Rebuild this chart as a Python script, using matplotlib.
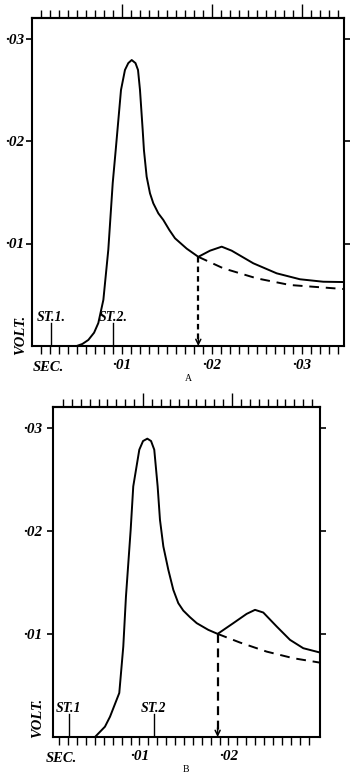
import matplotlib
matplotlib.use('Agg')
import matplotlib.pyplot as plt
from matplotlib.ticker import FixedLocator, NullFormatter, FixedFormatter

# ---------------- data: panel A ----------------
a_time = [0.00497, 0.0056, 0.00626, 0.0069, 0.00737, 0.00793, 0.00848, 0.00897, 0.0093,
          0.00989, 0.01033, 0.0107, 0.01108, 0.0115, 0.01178, 0.0120, 0.0123, 0.01244,
          0.01274, 0.01311, 0.01348, 0.01404, 0.01459, 0.01526, 0.01589, 0.01719, 0.01848,
          0.01978, 0.02108, 0.02219, 0.02459, 0.02719, 0.02978, 0.03237, 0.0346]
a_volt = [0.0, 0.0002, 0.00059, 0.0013, 0.00224, 0.0045, 0.0094, 0.0159, 0.0191,
          0.02498, 0.02693, 0.0276, 0.0279, 0.0276, 0.02693, 0.02498, 0.02107, 0.0191,
          0.01652, 0.0149, 0.01392, 0.01294, 0.0123, 0.01132, 0.01051, 0.0095, 0.0087,
          0.0093, 0.00969, 0.0093, 0.00807, 0.00709, 0.00651, 0.00627, 0.00624]
a_dash_time = [0.01848, 0.02126, 0.02497, 0.02867, 0.0346]
a_dash_volt = [0.0087, 0.00758, 0.0066, 0.00595, 0.00556]
a_arrow_time = 0.01848
a_st_time = [0.00211, 0.00901]
a_st_labels = ['ST.1.', 'ST.2.']
a_xlim = (0.0, 0.03467)

# ---------------- data: panel B ----------------
b_time = [0.005, 0.00612, 0.00669, 0.00773, 0.00818, 0.00848, 0.00901, 0.0093, 0.00998,
          0.0104, 0.01088, 0.0113, 0.01166, 0.01204, 0.0123, 0.01268, 0.01324, 0.0138,
          0.01436, 0.01492, 0.01567, 0.01643, 0.01773, 0.01878, 0.02054, 0.02204, 0.02298,
          0.02391, 0.02542, 0.02691, 0.0284, 0.03028]
b_volt = [0.0, 0.001, 0.00197, 0.00427, 0.00877, 0.01362, 0.0201, 0.0243, 0.02786,
          0.0287, 0.02893, 0.0287, 0.02786, 0.0243, 0.02107, 0.01848, 0.01621, 0.01427,
          0.01298, 0.01226, 0.01162, 0.01104, 0.01039, 0.0100, 0.01104, 0.01194, 0.01233,
          0.01207, 0.01071, 0.00942, 0.00861, 0.00819]
b_dash_time = [0.01878, 0.02129, 0.02429, 0.02728, 0.03028]
b_dash_volt = [0.0100, 0.00916, 0.00828, 0.00764, 0.00721]
b_arrow_time = 0.01878
b_st_time = [0.00208, 0.01163]
b_st_labels = ['ST.1', 'ST.2']
b_xlim = (0.00025, 0.03028)

y_ticks = [0.01, 0.02, 0.03]
y_tick_labels = ['·01', '·02', '·03']
x_major = [0.01, 0.02, 0.03]
x_major_labels = ['·01', '·02', '·03']

FONT = dict(family='Liberation Serif', style='italic', weight='bold')

fig = plt.figure(figsize=(3.55, 7.83), dpi=100)


def panel(rect, t, v, dt, dv, arrow_t, st_t, st_lab, xlim, letter, last_minor,
          ylab_pad, top_shift, vert_dash, sec_x, volt_y, volt_x):
    ax = fig.add_axes(rect)
    ax.set_xlim(*xlim)
    ax.set_ylim(0, 0.032)
    for s in ax.spines.values():
        s.set_linewidth(1.5)
    ax.plot(t, v, color='black', lw=1.4, solid_joinstyle='round')
    ax.plot(dt, dv, color='black', lw=1.4, ls=(0, (5, 3.5)))
    ax.plot([arrow_t, arrow_t], [dv[0], 0.0006], color='black', lw=1.6,
            ls=vert_dash)
    ax.annotate('', xy=(arrow_t, 0.0), xytext=(arrow_t, 0.0009),
                arrowprops=dict(arrowstyle='->', lw=1.1, color='black',
                                mutation_scale=9, shrinkA=0, shrinkB=0))
    for st, lab in zip(st_t, st_lab):
        ax.plot([st, st], [0, 0.0022], color='black', lw=1.0)
        ax.text(st, 0.0024, lab, ha='center', va='baseline', fontsize=10, **FONT)

    # y ticks
    ax.yaxis.set_major_locator(FixedLocator(y_ticks))
    ax.yaxis.set_major_formatter(FixedFormatter(y_tick_labels))
    ax.tick_params(axis='y', which='major', direction='out', length=4, width=1.2,
                   left=True, right=True, labelleft=True, labelright=False,
                   pad=ylab_pad)
    # bottom x ticks
    minor = [i / 1000 for i in range(1, last_minor + 1)]
    majors = [m for m in x_major if m < xlim[1] - 0.0005]
    labels = [x_major_labels[x_major.index(m)] for m in majors]
    ax.xaxis.set_major_locator(FixedLocator(majors))
    ax.xaxis.set_major_formatter(FixedFormatter(labels))
    ax.xaxis.set_minor_locator(FixedLocator(minor))
    ax.xaxis.set_minor_formatter(NullFormatter())
    ax.tick_params(axis='x', which='both', direction='out', length=5.5, width=1.0,
                   bottom=True, top=False, pad=4)
    for lab in ax.get_xticklabels() + ax.get_yticklabels():
        lab.set_fontfamily('Liberation Serif')
        lab.set_fontstyle('italic')
        lab.set_fontweight('bold')
        lab.set_fontsize(11)

    # top ticks
    sec = ax.secondary_xaxis('top', functions=(lambda x: x - top_shift,
                                               lambda x: x + top_shift))
    sec.xaxis.set_major_locator(FixedLocator(majors))
    sec.xaxis.set_minor_locator(FixedLocator(minor))
    sec.xaxis.set_major_formatter(NullFormatter())
    sec.xaxis.set_minor_formatter(NullFormatter())
    sec.tick_params(which='major', direction='out', length=10, width=1.0)
    sec.tick_params(which='minor', direction='out', length=5.5, width=1.0)
    sec.spines['top'].set_linewidth(1.5)

    ax.text(sec_x, -0.0021, 'SEC.', ha='center', va='center', fontsize=10.5,
            transform=ax.transData, clip_on=False, **FONT)
    ax.text(volt_x, volt_y, 'VOLT.', ha='center', va='center', rotation=90,
            fontsize=10.5, transform=ax.get_yaxis_transform(), clip_on=False, **FONT)
    ax.text(0.5, -0.1, letter, ha='center', va='center', fontsize=7,
            family='Liberation Serif', transform=ax.transAxes)
    return ax


panel([32 / 355, (783 - 346) / 783, 312 / 355, 328 / 783],
      a_time, a_volt, a_dash_time, a_dash_volt, a_arrow_time,
      a_st_time, a_st_labels, a_xlim, 'A', 34, 1.5, 0.0, (0, (2.5, 1.8)),
      0.0018, 0.0011, -0.035)

panel([52.7 / 355, (783 - 737) / 783, 267.3 / 355, 330 / 783],
      b_time, b_volt, b_dash_time, b_dash_volt, b_arrow_time,
      b_st_time, b_st_labels, b_xlim, 'B', 29, 3.5, 0.0004, (0, (4, 2.5)),
      0.0012, 0.0018, -0.055)

fig.savefig('out.png', dpi=100)
